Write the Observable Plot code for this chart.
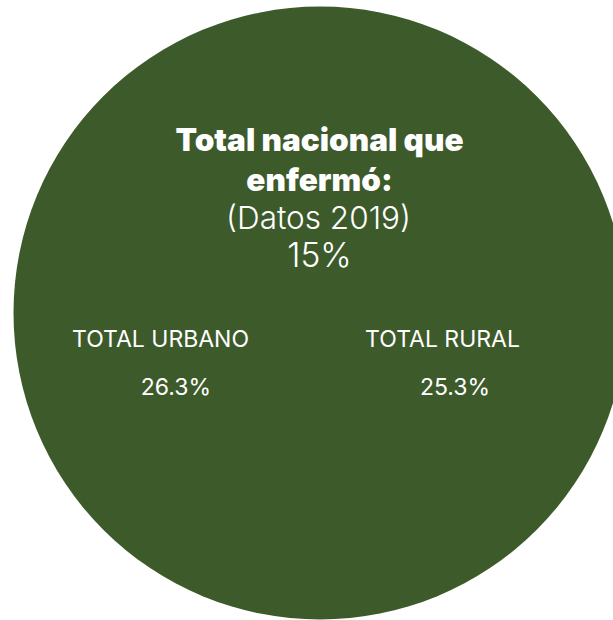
<!DOCTYPE html>
<html>
<head>
<meta charset="utf-8">
<script src="https://cdn.jsdelivr.net/npm/d3@7"></script>
<script src="https://cdn.jsdelivr.net/npm/@observablehq/plot@0.6"></script>
<style>
  html, body { margin: 0; padding: 0; background: #fff; overflow: hidden; }
  #chart svg { display: block; overflow: visible; }
</style>
</head>
<body>
<div id="chart"></div>
<script>
// Data
const titleLines = ["Total nacional que", "enfermó:"];
const subtitle = "(Datos 2019)";
const nationalValue = 15;
const areas = ["TOTAL URBANO", "TOTAL RURAL"];
const areaValues = [26.3, 25.3];

// Layout (pixel space)
const W = 613, H = 620;
const green = "#3d5a2b";
const circle = [{x: 319.5, y: 312.5, r: 306.5}];
const areaX = [160, 442];

const titleRows = titleLines.map((t, i) => ({text: t, x: 319, y: 150 + i * 40}));
const subRows = [{text: subtitle, x: 318, y: 228}];
const natRows = [{text: `${nationalValue}%`, x: 319, y: 266}];
const areaRows = areas.map((a, i) => ({text: a, x: areaX[i], y: 346}));
const valueRows = areaValues.map((v, i) => ({text: `${v.toFixed(1)}%`, x: areaX[i] + (i === 0 ? 15.5 : 12.5), y: 394}));

const chart = Plot.plot({
  width: W,
  height: H,
  margin: 0,
  x: {domain: [0, W], range: [0, W], axis: null},
  y: {domain: [0, H], range: [0, H], axis: null},
  r: {type: "identity"},
  marks: [
    Plot.dot(circle, {x: "x", y: "y", r: "r", fill: green, stroke: null}),
    Plot.text(titleRows, {x: "x", y: "y", text: "text", fill: "white", fontSize: 31.5, fontWeight: 900, fontFamily: "Inter", lineAnchor: "bottom", textAnchor: "middle"}),
    Plot.text(subRows, {x: "x", y: "y", text: "text", fill: "white", fontSize: 31.5, fontWeight: 300, fontFamily: "Inter", lineAnchor: "bottom", textAnchor: "middle"}),
    Plot.text(natRows, {x: "x", y: "y", text: "text", fill: "white", fontSize: 33.5, fontWeight: 300, fontFamily: "Inter", lineAnchor: "bottom", textAnchor: "middle"}),
    Plot.text(areaRows, {x: "x", y: "y", text: "text", fill: "white", fontSize: 23, fontWeight: 400, fontFamily: "Inter", lineAnchor: "bottom", textAnchor: "middle"}),
    Plot.text(valueRows, {x: "x", y: "y", text: "text", fill: "white", fontSize: 23, fontWeight: 400, fontFamily: "Inter", lineAnchor: "bottom", textAnchor: "middle"})
  ]
});
document.getElementById("chart").appendChild(chart);
</script>
</body>
</html>
